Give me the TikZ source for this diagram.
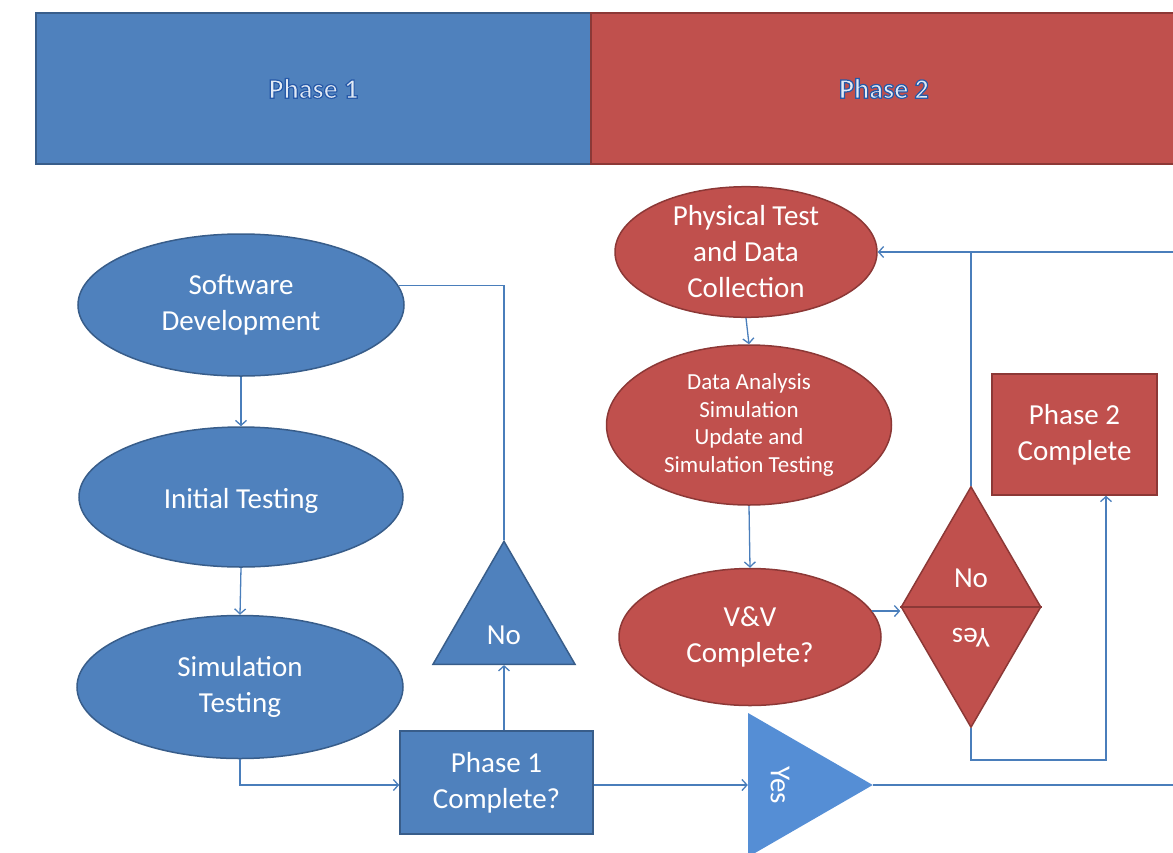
\documentclass[tikz,border=0pt]{standalone}
\usepackage{fontspec}
\setmainfont{Carlito}
\usetikzlibrary{shapes.geometric,arrows.meta}
\definecolor{bfill}{HTML}{4F81BD}
\definecolor{bline}{HTML}{385D8A}
\definecolor{rfill}{HTML}{C0504D}
\definecolor{rline}{HTML}{8C3836}
\definecolor{conn}{HTML}{4A7EBB}
\definecolor{yesfill}{HTML}{558ED5}
\definecolor{hdrtext}{HTML}{E2EAF5}
\newcommand\outlinetext[1]{\special{pdf:literal direct q 2 Tr 1.2 w 0.15 0.35 0.66 RG}#1\special{pdf:literal direct 0 Tr Q}}
\begin{document}
\begin{tikzpicture}[x=1pt,y=-1pt,
  bigtxt/.style={font=\fontsize{29}{36}\selectfont, text=white, align=center},
  strutted/.style={execute at begin node={\rule{0pt}{28pt}}},
  smalltxt/.style={font=\fontsize{23}{27.5}\selectfont, text=white, align=center},
  blueshape/.style={fill=bfill, draw=bline, line width=1.5pt},
  redshape/.style={fill=rfill, draw=rline, line width=1.5pt},
  ell/.style={ellipse, inner sep=0pt},
  box/.style={rectangle, inner sep=0pt},
  tri/.style={regular polygon, regular polygon sides=3, inner sep=0pt},
  hdr/.style={rectangle, inner sep=0pt, line width=2pt, font=\fontsize{28}{34}\selectfont\bfseries, text=hdrtext},
  link/.style={draw=conn, line width=1.3pt},
  arrow/.style={link, -{Straight Barb[length=5pt,width=11pt]}},
]
\useasboundingbox (0,0) rectangle (1173,852);
\clip (0,0) rectangle (1173,852);

% headers
\node[hdr, fill=bfill, draw=bline, minimum width=555, minimum height=151] (h1) at (313.5,88.5) {\outlinetext{Phase 1}};
\node[hdr, fill=rfill, draw=rline, minimum width=586, minimum height=151] (h2) at (884,88.5) {\outlinetext{Phase 2}};

% phase 1 column
\node[ell, blueshape, bigtxt, minimum width=326, minimum height=142] (sd) at (241,305) {Software\\Development};
\node[ell, blueshape, bigtxt, strutted, minimum width=324, minimum height=140] (it) at (241,497) {Initial Testing};
\node[ell, blueshape, bigtxt, minimum width=326, minimum height=143] (st) at (240,687) {Simulation\\Testing};
\node[box, blueshape, bigtxt, minimum width=193, minimum height=103] (p1c) at (496.5,782.5) {Phase 1\\Complete?};
\node[tri, blueshape, minimum size=164] (notri) at (504,623.3) {};
\node[bigtxt] (notxt) at (504,635) {No};
\node[tri, fill=yesfill, shape border rotate=-90, minimum size=166.3] (yestri) at (789.6,785) {};
\node[bigtxt, rotate=-90] (yestxt) at (780,785) {Yes};

% phase 2 column
\node[ell, redshape, bigtxt, minimum width=262, minimum height=128] (pt) at (746,252) {Physical Test\\and Data\\Collection};
\node[ell, redshape, smalltxt, minimum width=285, minimum height=160] (da) at (749,425) {Data Analysis\\Simulation\\Update and\\Simulation Testing};
\node[ell, redshape, bigtxt, minimum width=262, minimum height=137] (vv) at (750,637) {V\&V\\Complete?};
\node[diamond, redshape, inner sep=0pt, minimum width=140, minimum height=241] (dia) at (971,607) {};
\draw[rline, line width=1.5pt] (dia.west) -- (dia.east);
\node[bigtxt] (diano) at (971,578) {No};
\node[bigtxt, rotate=180] (diayes) at (971,638) {Yes};
\node[box, redshape, bigtxt, minimum width=165, minimum height=121] (p2c) at (1074.5,434.5) {Phase 2\\Complete};

% connectors
\draw[arrow] (sd.south) -- (it.north);
\draw[arrow] (it.south) -- (st.north);
\draw[arrow] (st.south) |- (p1c.west |- yestri.center);
\draw[arrow] (notri.south |- p1c.north) -- (notri.south);
\draw[link] (notri.corner 1) |- (sd.7);
\draw[arrow] (p1c.east |- yestri.center) -- (yestri.west);
\coordinate (rout) at (1173,785);
\draw[link] (yestri.corner 1) -- (rout);
\coordinate (rin) at (1173,252);
\draw[arrow] (rin) -- (pt.east);
\draw[arrow] (pt.south) -- (da.north);
\draw[arrow] (da.south) -- (vv.north);
\draw[arrow] (vv.12) -- (vv.12 -| dia.west);
\draw[link] (dia.north) -- (dia.north |- rin);
\coordinate (yturn) at (1106,760);
\draw[arrow] (dia.south) |- (yturn) -- (yturn |- p2c.south);
\end{tikzpicture}
\end{document}
